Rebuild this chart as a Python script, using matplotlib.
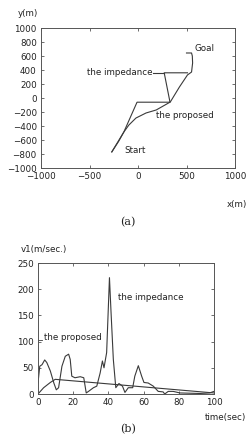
import matplotlib
matplotlib.use("Agg")
import matplotlib.pyplot as plt

# ---- data: (a) trajectories ----
prop_x = [-270, -200, -146, -94, -21, 83, 188, 333, 427, 510, 552, 563, 560, 552, 500]
prop_y = [-770, -620, -486, -386, -286, -214, -171, -57, 157, 329, 371, 500, 600, 643, 643]
imp_x = [-270, -146, -10, 330, 270, 510]
imp_y = [-770, -486, -60, -60, 360, 360]
leader_x = [156, 270]
leader_y = [360, 360]

xticks_a = [-1000, -500, 0, 500, 1000]
yticks_a = [-1000, -800, -600, -400, -200, 0, 200, 400, 600, 800, 1000]

# ---- data: (b) velocities ----
imp_t = [0, 1, 2.3, 3.8, 5, 7, 9, 10.4, 11.7, 13.6, 15.5, 17.4, 18.3, 19.2, 21, 24, 26,
         27.4, 28.7, 31.5, 33.4, 35.3, 36.6, 37.5, 39, 40.6, 41.5, 42.8, 44.2, 46, 48,
         49.4, 51.3, 53.8, 55, 57, 58.9, 60.2, 62.6, 65.5, 68.3, 71.1, 72, 74, 76.8,
         80.6, 92, 97.5, 100]
imp_v = [21, 53, 56, 65, 60, 44, 21, 8, 12, 53, 72, 76, 66, 34, 31, 33, 31,
         2, 5, 12, 15, 40, 63, 50, 79, 222, 156, 66, 12, 20, 15,
         3, 12, 12, 34, 54, 34, 22, 21, 15, 5, 4, 0, 5, 5,
         2, 1, 2, 5]
prop_t = [0, 3.2, 7, 9.8, 100]
prop_v = [0, 12, 22, 28, 2]

xticks_b = [0, 20, 40, 60, 80, 100]
yticks_b = [0, 50, 100, 150, 200, 250]

fs = 6.3
lc = '#3a3a3a'
lw = 0.8

fig = plt.figure(figsize=(2.5, 4.48), dpi=100)

def style(ax):
    for s in ax.spines.values():
        s.set_color('#555555')
        s.set_linewidth(0.7)
    ax.tick_params(direction='in', top=True, right=True, length=2.5, width=0.6,
                   colors='#555555', labelsize=fs, labelcolor='#222222', pad=3)

# (a)
ax1 = fig.add_axes([41/250, 1-168/448, 194/250, 140/448])
ax1.plot(prop_x, prop_y, color=lc, lw=lw)
ax1.plot(imp_x, imp_y, color=lc, lw=lw)
ax1.plot(leader_x, leader_y, color=lc, lw=lw)
ax1.set_xlim(-1000, 1000)
ax1.set_ylim(-1000, 1000)
ax1.set_xticks(xticks_a)
ax1.set_yticks(yticks_a)
style(ax1)
ax1.text(150, 360, 'the impedance', fontsize=fs, ha='right', va='center', color='#222222')
ax1.text(190, -243, 'the proposed', fontsize=fs, ha='left', va='center', color='#222222')
ax1.text(-140, -743, 'Start', fontsize=fs, ha='left', va='center', color='#222222')
ax1.text(580, 710, 'Goal', fontsize=fs, ha='left', va='center', color='#222222')
fig.text(28/250, 1-13/448, 'y(m)', fontsize=fs, ha='center', va='center', color='#222222')
fig.text(237/250, 1-204/448, 'x(m)', fontsize=fs, ha='center', va='center', color='#222222')
fig.text(128/250, 1-222/448, '(a)', fontsize=8, ha='center', va='center',
         family='DejaVu Serif', color='#222222')

# (b)
ax2 = fig.add_axes([38/250, 1-394/448, 176/250, 131/448])
ax2.plot(imp_t, imp_v, color=lc, lw=lw)
ax2.plot(prop_t, prop_v, color=lc, lw=lw)
ax2.plot([0, 2.5], [103, 103], color=lc, lw=0.6)
ax2.set_xlim(0, 100)
ax2.set_ylim(0, 250)
ax2.set_xticks(xticks_b)
ax2.set_yticks(yticks_b)
style(ax2)
ax2.text(45.5, 185, 'the impedance', fontsize=fs, ha='left', va='center', color='#222222')
ax2.text(3.5, 108, 'the proposed', fontsize=fs, ha='left', va='center', color='#222222')
fig.text(44/250, 1-249/448, 'v1(m/sec.)', fontsize=fs, ha='center', va='center', color='#222222')
fig.text(226/250, 1-417/448, 'time(sec)', fontsize=fs, ha='center', va='center', color='#222222')
fig.text(128/250, 1-429/448, '(b)', fontsize=8, ha='center', va='center',
         family='DejaVu Serif', color='#222222')

fig.savefig('out.png', dpi=100, facecolor='white')
